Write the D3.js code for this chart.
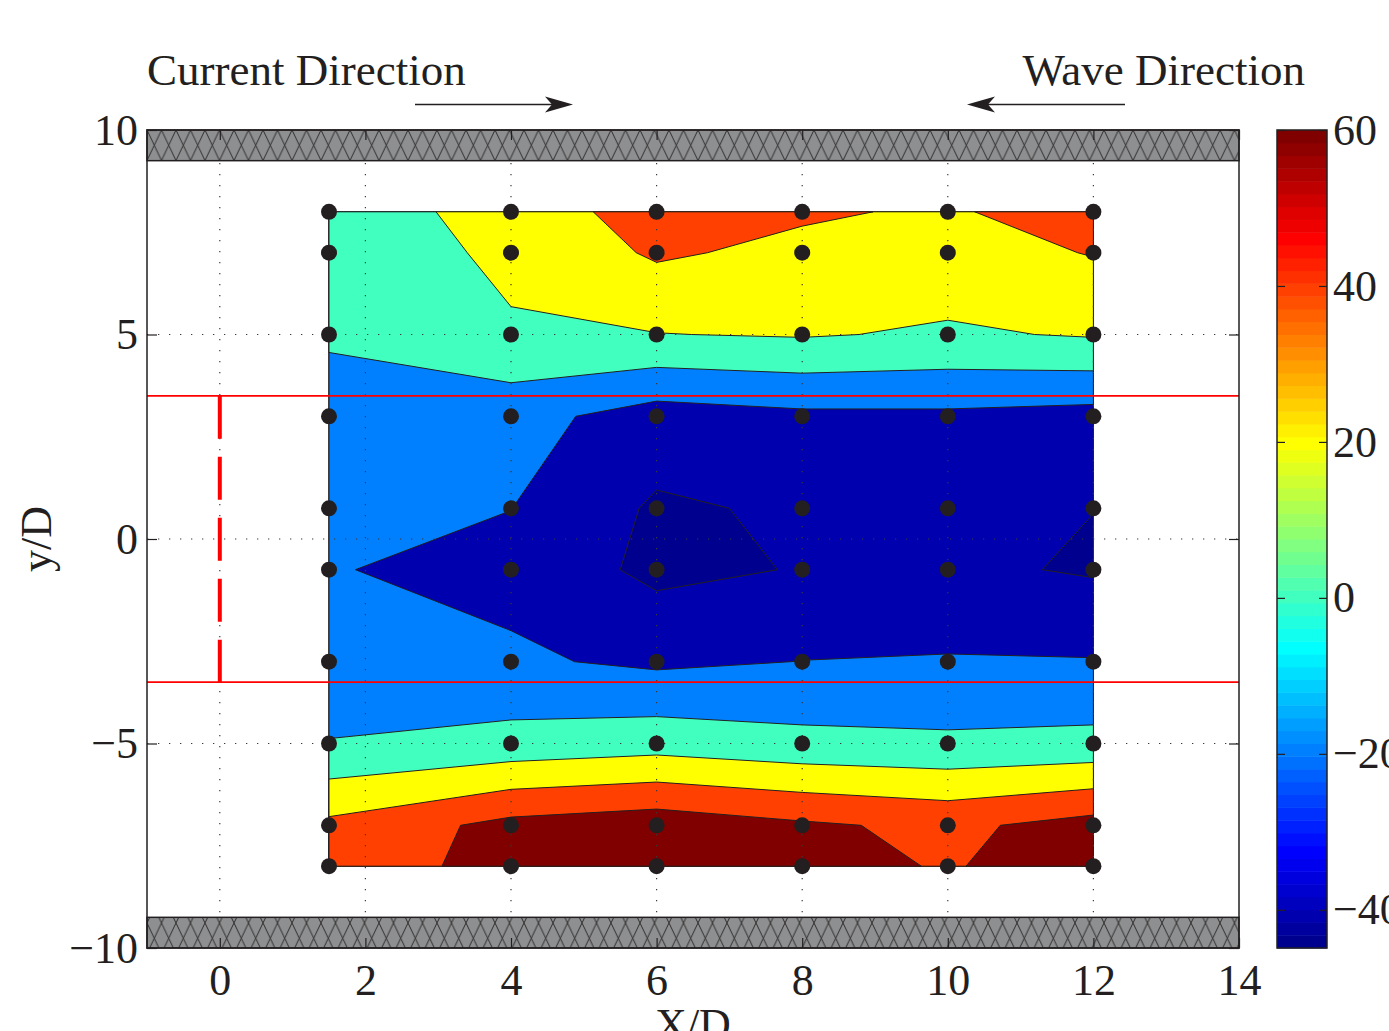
<!DOCTYPE html>
<html>
<head>
<meta charset="utf-8">
<script src="https://cdn.jsdelivr.net/npm/d3@7"></script>
<style>
  body { margin: 0; background: #fff; }
  text { font-family: "Liberation Serif", "Times New Roman", serif; fill: #231f20; }
</style>
</head>
<body>
<div class="content"></div>
<script>
// Measurement grid: columns at X/D, rows at y/D
var xPos = [1.5, 4, 6, 8, 10, 12];
var yPos = [-8, -7, -5, -3, -0.75, 0.75, 3, 5, 7, 8];

// One row of values per yPos entry (left to right along xPos)
var rowYm8   = [46.9, 68.0, 70.0, 69.0, 58.0, 74.0];
var rowYm7   = [44.6, 65.9, 72.0, 63.0, 55.6, 67.8];
var rowYm5   = [1.1, 7.0, 11.5, 5.8, 3.7, 5.6];
var rowYm3   = [-17.2, -17.3, -23.5, -19.7, -18.5, -19.0];
var rowYm075 = [-19.1, -25.3, -44.9, -39.0, -36.3, -42.0];
var rowY075  = [-16.0, -19.8, -42.75, -37.25, -35.0, -39.8];
var rowY3    = [-14.2, -12.8, -29.0, -24.1, -23.7, -27.1];
var rowY5    = [4.0, 18.4, 19.5, 21.6, 17.5, 21.7];
var rowY7    = [10.2, 23.1, 42.75, 34.9, 31.8, 41.0];
var rowY8    = [12.0, 25.6, 51.1, 42.75, 37.1, 52.8];

// Contour levels and ticks
var levels = [-40, -20, 0, 20, 40, 60];
var xTicks = [0, 2, 4, 6, 8, 10, 12, 14];
var yTicks = [-10, -5, 0, 5, 10];
var yGrid = [-5, 0, 5];
var cbTicks = [-40, -20, 0, 20, 40, 60];

// Walls (hatched) and the red cylinder lines
var wallEdge = 9.25;
var redLinesY = [-3.5, 3.5];
var notes = [
  {label: "Current Direction", dir: 1},
  {label: "Wave Direction", dir: -1}
];

// Set the dimensions and margins of the graph
var margin = {top: 130, right: 150, bottom: 83, left: 147},
    width = 1239 - margin.left,
    height = 948 - margin.top;

var svg = d3.select(".content").append("svg")
    .attr("width", 1389)
    .attr("height", 1031);

var x = d3.scaleLinear().domain([-1, 14]).range([margin.left, margin.left + width]);
var y = d3.scaleLinear().domain([-10, 10]).range([margin.top + height, margin.top]);

// MATLAB style jet colormap
function jet(m) {
  var n = Math.ceil(m / 4), u = [], J = [], i;
  for (i = 1; i <= n; i++) u.push(i / n);
  for (i = 1; i < n; i++) u.push(1);
  for (i = n; i >= 1; i--) u.push(i / n);
  var g0 = Math.ceil(n / 2) - (m % 4 === 1 ? 1 : 0);
  for (i = 0; i < m; i++) J.push([0, 0, 0]);
  u.forEach(function(v, k) {
    var g = g0 + k + 1, r = g + n, b = g - n;
    if (r <= m) J[r - 1][0] = v;
    if (g <= m) J[g - 1][1] = v;
    if (b >= 1) J[b - 1][2] = v;
  });
  return J.map(function(c) { return d3.rgb(c[0] * 255, c[1] * 255, c[2] * 255).formatHex(); });
}
var cmap = jet(64);

var grid = [].concat(rowYm8, rowYm7, rowYm5, rowYm3, rowYm075, rowY075, rowY3, rowY5, rowY7, rowY8);
var cmin = d3.min(grid), cmax = d3.max(levels);
function colorOf(v) {
  var k = Math.floor((v - cmin) / (cmax - cmin) * cmap.length);
  return cmap[Math.max(0, Math.min(cmap.length - 1, k))];
}

// grid index space -> data space (piecewise linear along the uneven grid)
function gridToData(arr, c) {
  var k = Math.max(0, Math.min(arr.length - 1, c - 0.5));
  var i = Math.min(Math.floor(k), arr.length - 2);
  return arr[i] + (k - i) * (arr[i + 1] - arr[i]);
}
var toScreen = d3.geoTransform({
  point: function(px, py) {
    this.stream.point(x(gridToData(xPos, px)), y(gridToData(yPos, py)));
  }
});
var path = d3.geoPath(toScreen);

var contours = d3.contours()
  .size([xPos.length, yPos.length])
  .thresholds([cmin].concat(levels))(grid);

// filled contours
svg.append("g")
  .selectAll("path")
  .data(contours)
  .enter()
  .append("path")
    .attr("d", path)
    .attr("fill", function(d) { return colorOf(d.value); })
    .attr("stroke", "#231f20")
    .attr("stroke-width", 1)
    .attr("stroke-linejoin", "round");

// dotted grid
var gridG = svg.append("g")
  .attr("stroke", "#3a3a3a")
  .attr("stroke-width", 1.2)
  .attr("stroke-dasharray", "1.3,9.7");
gridG.selectAll("line.vx")
  .data(xTicks.filter(function(d) { return d < 14; }))
  .enter().append("line")
    .attr("x1", function(d) { return x(d); })
    .attr("x2", function(d) { return x(d); })
    .attr("y1", y(10))
    .attr("y2", y(-10));
gridG.selectAll("line.hy")
  .data(yGrid)
  .enter().append("line")
    .attr("x1", x(-1))
    .attr("x2", x(14))
    .attr("y1", function(d) { return y(d); })
    .attr("y2", function(d) { return y(d); });

// red cylinder lines
svg.selectAll("line.red")
  .data(redLinesY)
  .enter().append("line")
    .attr("x1", x(-1))
    .attr("x2", x(14))
    .attr("y1", function(d) { return y(d); })
    .attr("y2", function(d) { return y(d); })
    .attr("stroke", "#ff0000")
    .attr("stroke-width", 1.6);
svg.append("line")
  .attr("x1", x(0)).attr("x2", x(0))
  .attr("y1", y(d3.max(redLinesY))).attr("y2", y(d3.min(redLinesY)))
  .attr("stroke", "#ff0000")
  .attr("stroke-width", 4)
  .attr("stroke-dasharray", "43,18");

// measurement points
var pts = [];
yPos.forEach(function(yy) { xPos.forEach(function(xx) { pts.push([xx, yy]); }); });
svg.append("g")
  .selectAll("circle")
  .data(pts)
  .enter().append("circle")
    .attr("cx", function(d) { return x(d[0]); })
    .attr("cy", function(d) { return y(d[1]); })
    .attr("r", 8)
    .attr("fill", "#231f20");

// hatched walls
var defs = svg.append("defs");
var pat = defs.append("pattern")
  .attr("id", "hatch")
  .attr("patternUnits", "userSpaceOnUse")
  .attr("width", 14.5)
  .attr("height", 30.5)
  .attr("patternTransform", "translate(" + x(-1) + "," + y(10) + ")");
pat.append("rect").attr("width", 14.5).attr("height", 30.5).attr("fill", "#8e8f91");
pat.append("path")
  .attr("d", "M0,0L14.5,30.5M14.5,0L0,30.5")
  .attr("stroke", "#231f20")
  .attr("stroke-width", 0.9);

svg.selectAll("rect.wall")
  .data([[wallEdge, 10], [-10, -wallEdge]])
  .enter().append("rect")
    .attr("x", x(-1))
    .attr("width", x(14) - x(-1))
    .attr("y", function(d) { return y(d[1]); })
    .attr("height", function(d) { return y(d[0]) - y(d[1]); })
    .attr("fill", "url(#hatch)")
    .attr("stroke", "#231f20")
    .attr("stroke-width", 1.5);

// axes box with inward ticks
var axG = svg.append("g");
axG.append("rect")
  .attr("x", x(-1)).attr("y", y(10))
  .attr("width", x(14) - x(-1)).attr("height", y(-10) - y(10))
  .attr("fill", "none")
  .attr("stroke", "#231f20")
  .attr("stroke-width", 1.5);

var tickLen = 10;
axG.append("g")
  .attr("transform", "translate(0," + y(-10) + ")")
  .call(d3.axisBottom(x).tickValues(xTicks).tickSize(-tickLen).tickPadding(16).tickFormat(d3.format("d")))
  .call(function(g) { g.select(".domain").remove(); });
axG.append("g")
  .attr("transform", "translate(0," + y(10) + ")")
  .call(d3.axisTop(x).tickValues(xTicks).tickSize(-tickLen).tickFormat(""))
  .call(function(g) { g.select(".domain").remove(); });
axG.append("g")
  .attr("transform", "translate(" + x(-1) + ",0)")
  .call(d3.axisLeft(y).tickValues(yTicks).tickSize(-tickLen).tickPadding(9).tickFormat(d3.format("d")))
  .call(function(g) { g.select(".domain").remove(); });
axG.append("g")
  .attr("transform", "translate(" + x(14) + ",0)")
  .call(d3.axisRight(y).tickValues(yTicks).tickSize(-tickLen).tickFormat(""))
  .call(function(g) { g.select(".domain").remove(); });

axG.selectAll(".tick line").attr("stroke", "#231f20").attr("stroke-width", 1.2);
axG.selectAll(".tick text")
  .style("font-family", '"Liberation Serif", "Times New Roman", serif')
  .style("font-size", "44px")
  .attr("fill", "#231f20");

// axis labels
svg.append("text")
  .attr("x", x(6.5))
  .attr("y", 1039)
  .attr("text-anchor", "middle")
  .style("font-size", "44px")
  .text("X/D");
svg.append("text")
  .attr("transform", "translate(51," + y(0) + ") rotate(-90)")
  .attr("text-anchor", "middle")
  .style("font-size", "44px")
  .text("y/D");

// direction annotations
notes.forEach(function(n) {
  var tx = n.dir > 0 ? x(-1) : 1305;
  svg.append("text")
    .attr("x", tx)
    .attr("y", 85)
    .attr("text-anchor", n.dir > 0 ? "start" : "end")
    .style("font-size", "45px")
    .text(n.label);
  var x0 = n.dir > 0 ? 415 : 1125, x1 = n.dir > 0 ? 573 : 967, ay = 104.5;
  svg.append("line")
    .attr("x1", x0).attr("x2", x1 - n.dir * 10)
    .attr("y1", ay).attr("y2", ay)
    .attr("stroke", "#231f20").attr("stroke-width", 1.5);
  var L = 28, W = 8, B = 7;
  svg.append("path")
    .attr("d", "M" + x1 + "," + ay +
      "L" + (x1 - n.dir * L) + "," + (ay - W) +
      "L" + (x1 - n.dir * (L - B)) + "," + ay +
      "L" + (x1 - n.dir * L) + "," + (ay + W) + "Z")
    .attr("fill", "#231f20");
});

// colorbar
var cbX = 1277, cbW = 50;
var cb = d3.scaleLinear().domain([cmin, cmax]).range([margin.top + height, margin.top]);
var step = (cmax - cmin) / cmap.length;
var cbG = svg.append("g");
cbG.selectAll("rect.cm")
  .data(cmap)
  .enter().append("rect")
    .attr("x", cbX)
    .attr("width", cbW)
    .attr("y", function(d, i) { return cb(cmin + (i + 1) * step); })
    .attr("height", function(d, i) { return cb(cmin + i * step) - cb(cmin + (i + 1) * step) + 0.5; })
    .attr("fill", function(d) { return d; });
cbG.append("rect")
  .attr("x", cbX).attr("y", cb(cmax))
  .attr("width", cbW).attr("height", cb(cmin) - cb(cmax))
  .attr("fill", "none").attr("stroke", "#231f20").attr("stroke-width", 1.5);
cbG.append("g")
  .attr("transform", "translate(" + (cbX + cbW) + ",0)")
  .call(d3.axisRight(cb).tickValues(cbTicks).tickSize(-8).tickPadding(6).tickFormat(d3.format("d")))
  .call(function(g) { g.select(".domain").remove(); });
cbG.append("g")
  .attr("transform", "translate(" + cbX + ",0)")
  .call(d3.axisLeft(cb).tickValues(cbTicks).tickSize(-8).tickFormat(""))
  .call(function(g) { g.select(".domain").remove(); });
cbG.selectAll(".tick line").attr("stroke", "#231f20").attr("stroke-width", 1.2);
cbG.selectAll(".tick text")
  .style("font-family", '"Liberation Serif", "Times New Roman", serif')
  .style("font-size", "44px")
  .attr("fill", "#231f20");

// minus signs like the original
svg.selectAll(".tick text").text(function() {
  return d3.select(this).text().replace("-", "\u2212");
});
</script>
</body>
</html>
